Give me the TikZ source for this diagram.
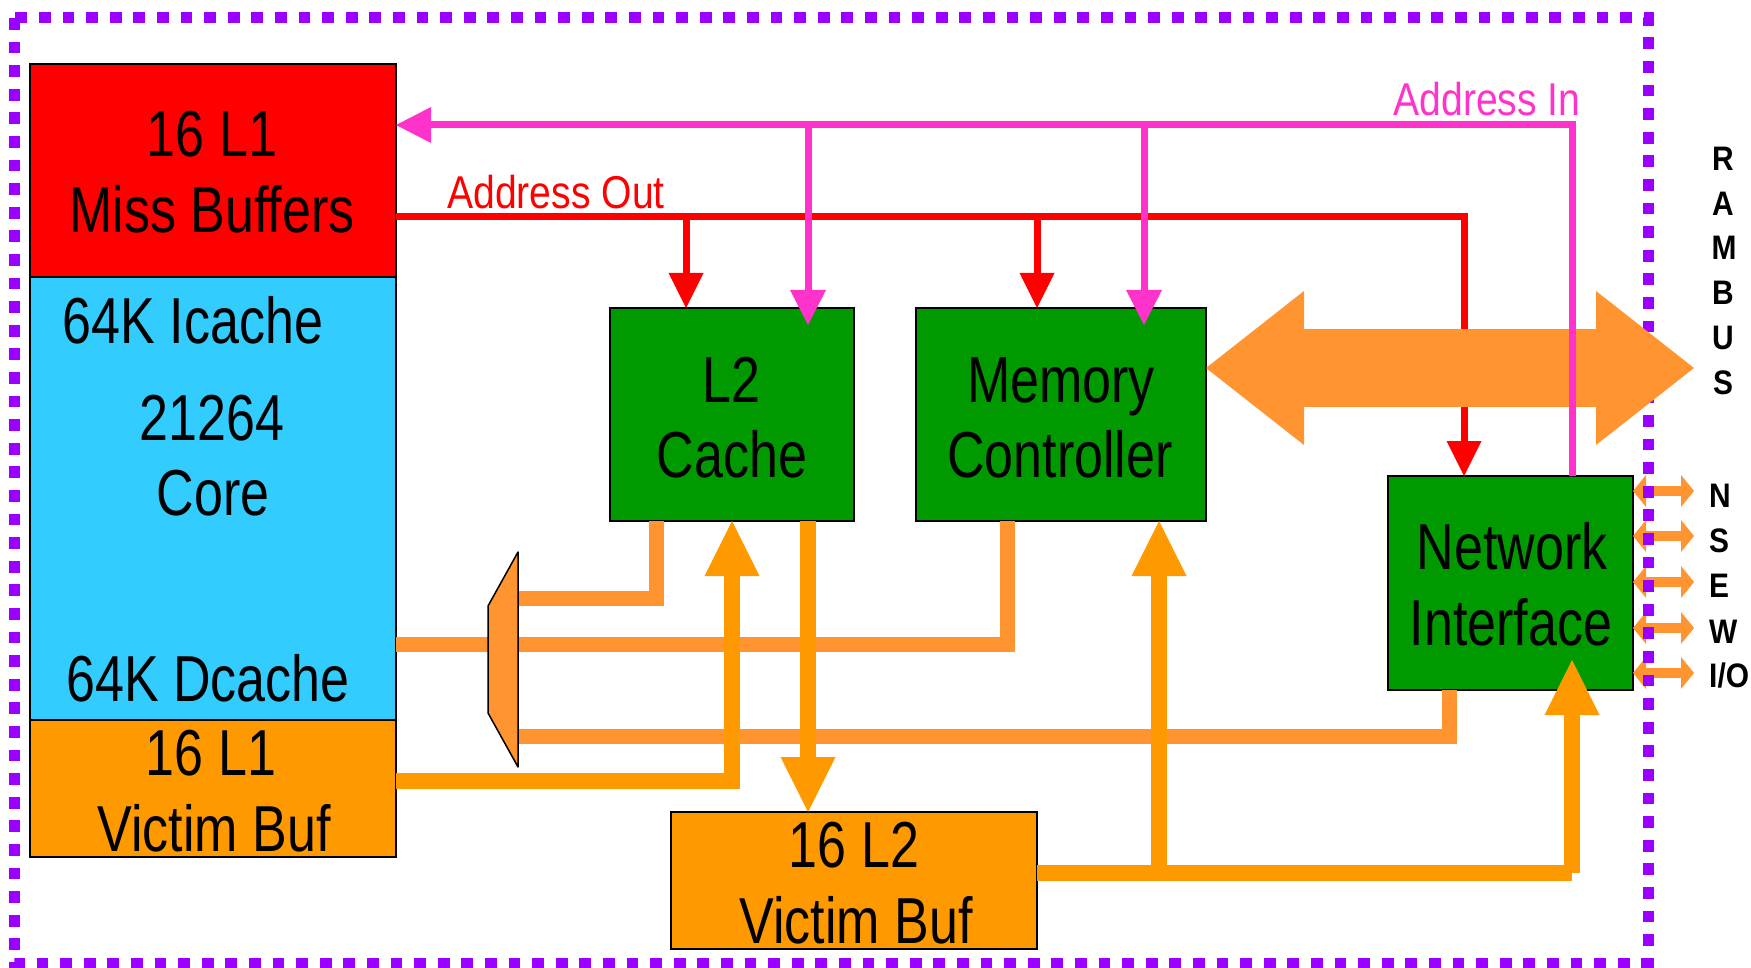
\documentclass[tikz,border=0pt]{standalone}
\usepackage{fontspec}
\usetikzlibrary{arrows.meta,calc}
\newfontfamily\nfont[FakeStretch=0.8]{Liberation Sans}
\newfontfamily\lfont[FakeStretch=0.85]{Liberation Sans}
\newfontfamily\bfont[FakeStretch=0.88]{Liberation Sans}
\definecolor{cred}{RGB}{255,0,0}
\definecolor{ccyan}{RGB}{51,204,255}
\definecolor{cgreen}{RGB}{0,153,0}
\definecolor{camber}{RGB}{255,153,0}
\definecolor{corange}{RGB}{255,148,48}
\definecolor{cpink}{RGB}{255,51,204}
\definecolor{cpurple}{RGB}{153,0,255}
\begin{document}
\begin{tikzpicture}[x=1pt,y=-1pt,
  blk/.style={draw=black,line width=1.8pt,inner sep=0pt,outer sep=0pt,anchor=north west},
  txt/.style={inner sep=0pt,anchor=base,font=\nfont\fontsize{65}{70}\selectfont},
  lbl/.style={inner sep=0pt,anchor=base,font=\lfont\fontsize{46}{50}\selectfont},
  bl/.style={inner sep=0pt,font=\bfont\bfseries\fontsize{34}{38}\selectfont},
  redw/.style={draw=cred,line width=7pt},
  pinkw/.style={draw=cpink,line width=7pt},
  ow/.style={draw=corange,line width=15pt},
  aw/.style={draw=camber,line width=15.5pt},
  redhead/.tip={Triangle[length=35pt,width=35pt,line width=0pt]},
  pinkhead/.tip={Triangle[length=35pt,width=36pt,line width=0pt]},
  amberhead/.tip={Triangle[length=55pt,width=55pt,line width=0pt]},
  smallhead/.tip={Triangle[length=13pt,width=32pt,line width=0pt]},
  bighead/.tip={Triangle[length=98pt,width=154pt,line width=0pt]},
  smallarr/.style={draw=corange,line width=10pt,{smallhead}-{smallhead}}
]
\useasboundingbox (0,0) rectangle (1751,968);

% boxes
\node[blk,fill=cred,minimum width=366pt,minimum height=213pt] (missbuf) at (30,64) {};
\node[blk,fill=ccyan,minimum width=366pt,minimum height=443pt] (core) at (30,277) {};
\node[blk,fill=camber,minimum width=366pt,minimum height=137pt] (l1vb) at (30,720) {};
\node[blk,fill=cgreen,minimum width=244pt,minimum height=213pt] (l2) at (610,308) {};
\node[blk,fill=cgreen,minimum width=290pt,minimum height=213pt] (mc) at (916,308) {};
\node[blk,fill=cgreen,minimum width=245pt,minimum height=214pt] (ni) at (1388,476) {};
\node[blk,fill=camber,minimum width=366pt,minimum height=137pt] (l2vb) at (671,812) {};

% small N S E W I/O arrows
\coordinate (pN) at (1694,491);
\coordinate (pS) at (1694,536);
\coordinate (pE) at (1694,582);
\coordinate (pW) at (1694,628);
\coordinate (pIO) at (1694,673);
\draw[smallarr] (ni.east |- pN) -- (pN);
\draw[smallarr] (ni.east |- pS) -- (pS);
\draw[smallarr] (ni.east |- pE) -- (pE);
\draw[smallarr] (ni.east |- pW) -- (pW);
\draw[smallarr] (ni.east |- pIO) -- (pIO);

% chip border
\draw[cpurple,line width=11pt,dash pattern=on 11.8pt off 11.8pt] (14,18) rectangle (1648,963);

% orange data paths
\coordinate (mxA) at (518,598);
\coordinate (mxB) at (518,736);
\coordinate (c1) at (656,598);
\coordinate (c2) at (1007,644);
\coordinate (c3) at (1449,736);
\draw[ow] (c1 |- l2.south) -- (c1) -- (mxA);
\draw[ow] (core.east |- c2) -- (c2) -- (c2 |- mc.south);
\draw[ow] (mxB) -- (c3) -- (c3 |- ni.south);

% mux
\coordinate (mx1) at (488,606);
\coordinate (mx2) at (518,552);
\coordinate (mx3) at (518,767);
\coordinate (mx4) at (488,713);
\draw[fill=corange,draw=black,line width=1.5pt,line join=round] (mx1) -- (mx2) -- (mx3) -- (mx4) -- cycle;

% amber arrows
\coordinate (c4) at (732,781);
\coordinate (c5) at (808,600);
\coordinate (c6) at (1572,873);
\coordinate (c7) at (1159,873);
\draw[aw,-{amberhead}] (l1vb.east |- c4) -- (c4) -- (c4 |- l2.south);
\draw[aw,-{amberhead}] (c5 |- l2.south) -- (c5 |- l2vb.north);
\draw[aw] (l2vb.east |- c6) -- (c6);
\draw[aw,-{amberhead}] (c6) -- ($(c6 |- ni.south)+(0,-30)$);
\draw[aw,-{amberhead}] (c7) -- (c7 |- mc.south);

% address out (red)
\coordinate (aoC) at (1464,217);
\coordinate (ao1) at (686,217);
\coordinate (ao2) at (1037,217);
\draw[redw,-{redhead}] (missbuf.east |- aoC) -- (aoC) -- (aoC |- ni.north);
\draw[redw,-{redhead}] (ao1) -- (ao1 |- l2.north);
\draw[redw,-{redhead}] (ao2) -- (ao2 |- mc.north);

% RAMBUS big arrow
\coordinate (rbR) at (1694,368);
\draw[draw=corange,line width=78pt,{bighead}-{bighead}] (mc.east |- rbR) -- (rbR);

% address in (pink)
\coordinate (aiC) at (1572,125);
\coordinate (ai1) at (808,125);
\coordinate (ai2) at (1144,125);
\draw[pinkw,-{pinkhead}] (ni.north -| aiC) -- (aiC) -- (missbuf.east |- aiC);
\draw[pinkw,-{pinkhead}] (ai1) -- ($(ai1 |- l2.north)+(0,17)$);
\draw[pinkw,-{pinkhead}] (ai2) -- ($(ai2 |- mc.north)+(0,17)$);

% texts
\node[txt] (t1) at (212,157) {16 L1};
\node[txt] (t2) at (212,233) {Miss Buffers};
\node[txt] (t3) at (193,343) {64K Icache};
\node[txt] (t4) at (212,440) {21264};
\node[txt] (t5) at (213,515) {Core};
\node[txt] (t6) at (208,701) {64K Dcache};
\node[txt] (t7) at (211,775) {16 L1};
\node[txt] (t8) at (214,851) {Victim Buf};
\node[txt] (t9) at (731,402) {L2};
\node[txt] (t10) at (732,477) {Cache};
\node[txt] (t11) at (1061,402) {Memory};
\node[txt] (t12) at (1060,477) {Controller};
\node[txt] (t13) at (1512,569) {Network};
\node[txt] (t14) at (1511,645) {Interface};
\node[txt] (t15) at (854,867) {16 L2};
\node[txt] (t16) at (856,943) {Victim Buf};
\node[lbl,text=cred] (ao) at (556,209) {Address Out};
\node[lbl,text=cpink] (ai) at (1487,116) {Address In};

\node[bl,anchor=base] (r1) at (1723,171) {R};
\node[bl,anchor=base] (r2) at (1723,215.6) {A};
\node[bl,anchor=base] (r3) at (1724,260) {M};
\node[bl,anchor=base] (r4) at (1723,305) {B};
\node[bl,anchor=base] (r5) at (1723,349.5) {U};
\node[bl,anchor=base] (r6) at (1723,394) {S};

\node[bl,anchor=base west] (lN) at (1709,507) {N};
\node[bl,anchor=base west] (lS) at (1709,552) {S};
\node[bl,anchor=base west] (lE) at (1709,597) {E};
\node[bl,anchor=base west] (lW) at (1709,643) {W};
\node[bl,anchor=base west] (lIO) at (1709,687) {I/O};
\end{tikzpicture}
\end{document}
